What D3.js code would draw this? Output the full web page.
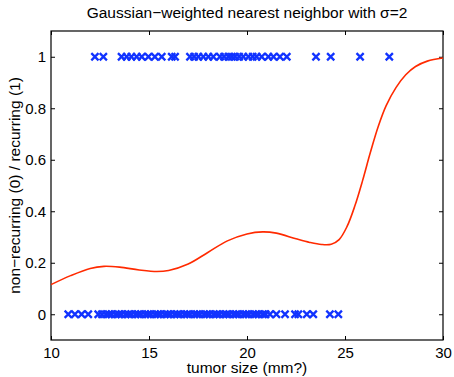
<!DOCTYPE html>
<html>
<head>
<meta charset="utf-8">
<script src="https://cdn.jsdelivr.net/npm/d3@7"></script>
<style>
  body { margin: 0; background: #fff; }
  text { font-family: "Liberation Sans", Arial, sans-serif; fill: #000; }
</style>
</head>
<body>
<div id="chart"></div>
<script>
// tumor sizes of recurring cases (label 1)
const recurring = [12.24, 12.67, 13.6, 13.86, 14.1, 14.37, 14.63, 14.97, 15.3, 15.65,
  16.16, 16.33, 17.09, 17.3, 17.52, 17.77, 18.03, 18.28, 18.62, 18.83, 19.05, 19.22,
  19.39, 19.6, 19.81, 20.07, 20.29, 20.49, 20.75, 21.09, 21.35, 21.68, 22.03,
  23.52, 24.27, 25.77, 27.26]
// tumor sizes of non-recurring cases (label 0)
const nonRecurring = [10.88, 11.22, 11.56, 11.9, 12.41, 12.6, 12.8, 12.95, 13.1, 13.3,
  13.45, 13.6, 13.8, 13.95, 14.1, 14.3, 14.45, 14.6, 14.8, 14.95, 15.1, 15.3, 15.45,
  15.6, 15.8, 15.95, 16.1, 16.3, 16.45, 16.6, 16.8, 16.95, 17.1, 17.3, 17.45, 17.6,
  17.8, 17.95, 18.1, 18.3, 18.45, 18.6, 18.8, 18.95, 19.1, 19.3, 19.45, 19.6, 19.8,
  19.95, 20.1, 20.3, 20.45, 20.6, 20.8, 20.95, 21.17, 21.5, 21.94, 22.45, 22.62,
  23.05, 23.38, 24.23, 24.66]
// smoothed estimate
const curveX = [10, 11, 12, 12.7, 13.5, 14.5, 15.4, 16, 17, 18, 19, 20, 20.8, 21.5,
  22.5, 23.2, 23.8, 24.3, 24.7, 25.1, 25.5, 25.9, 26.3, 26.7, 27.1, 27.6, 28.1, 28.6,
  29.2, 30]
const curveY = [0.115, 0.15, 0.178, 0.186, 0.183, 0.172, 0.166, 0.17, 0.195, 0.24,
  0.285, 0.312, 0.32, 0.315, 0.293, 0.279, 0.271, 0.272, 0.29, 0.34, 0.42, 0.52,
  0.63, 0.73, 0.81, 0.88, 0.93, 0.962, 0.983, 0.995]
const xTicks = [10, 15, 20, 25, 30]
const yTicks = [0, 0.2, 0.4, 0.6, 0.8, 1]

const width = 454
const height = 377
const margin = { top: 31, right: 11, bottom: 37, left: 51 }
const iw = width - margin.left - margin.right
const ih = height - margin.top - margin.bottom
const fs = 15

const svg = d3.select('#chart')
  .append('svg')
  .attr('width', width)
  .attr('height', height)
const g = svg.append('g').attr('transform', `translate(${margin.left},${margin.top})`)

const x = d3.scaleLinear().domain([10, 30]).range([0, iw])
const y = d3.scaleLinear().domain([-0.1, 1.1]).range([ih, 0])

// axes with inward ticks, MATLAB style
const tickLen = 4
g.append('g')
  .attr('transform', `translate(0,${ih})`)
  .call(d3.axisBottom(x).tickValues(xTicks).tickSizeInner(-tickLen).tickSizeOuter(0).tickPadding(7))
g.append('g')
  .call(d3.axisTop(x).tickValues(xTicks).tickSizeInner(-tickLen).tickSizeOuter(0).tickFormat(''))
g.append('g')
  .call(d3.axisLeft(y).tickValues(yTicks).tickSizeInner(-tickLen).tickSizeOuter(0).tickPadding(5)
    .tickFormat(d => d === 0 || d === 1 ? d : d3.format('.1f')(d)))
g.append('g')
  .attr('transform', `translate(${iw},0)`)
  .call(d3.axisRight(y).tickValues(yTicks).tickSizeInner(-tickLen).tickSizeOuter(0).tickFormat(''))
g.selectAll('.domain').remove()
g.selectAll('.tick line').attr('stroke', '#000')
g.selectAll('.tick text').attr('font-size', fs).attr('fill', '#000')

g.append('rect')
  .attr('width', iw)
  .attr('height', ih)
  .attr('fill', 'none')
  .attr('stroke', '#000')
  .attr('stroke-width', 1.2)

// crosses
const s = 3.6
function drawCrosses(data, val) {
  g.append('g').selectAll('path')
    .data(data)
    .enter()
    .append('path')
    .attr('d', d => {
      const cx = x(d), cy = y(val)
      return `M${cx - s},${cy - s}L${cx + s},${cy + s}M${cx - s},${cy + s}L${cx + s},${cy - s}`
    })
    .attr('stroke', '#1133ff')
    .attr('stroke-width', 2.3)
    .attr('fill', 'none')
}
drawCrosses(recurring, 1)
drawCrosses(nonRecurring, 0)

// smoothed curve
const line = d3.line()
  .x(d => x(d[0]))
  .y(d => y(d[1]))
  .curve(d3.curveCatmullRom)
g.append('path')
  .datum(d3.zip(curveX, curveY))
  .attr('d', line)
  .attr('fill', 'none')
  .attr('stroke', '#ff2a00')
  .attr('stroke-width', 1.6)

// labels
svg.append('text')
  .attr('x', margin.left + iw / 2)
  .attr('y', 18)
  .attr('text-anchor', 'middle')
  .attr('font-size', 15.5)
  .text('Gaussian\u2212weighted nearest neighbor with \u03c3=2')
svg.append('text')
  .attr('x', margin.left + iw / 2)
  .attr('y', 373)
  .attr('text-anchor', 'middle')
  .attr('font-size', 15.5)
  .text('tumor size (mm?)')
svg.append('text')
  .attr('transform', `translate(20,${margin.top + ih / 2}) rotate(-90)`)
  .attr('text-anchor', 'middle')
  .attr('font-size', 15.5)
  .text('non\u2212recurring (0) / recurring (1)')
</script>
</body>
</html>
